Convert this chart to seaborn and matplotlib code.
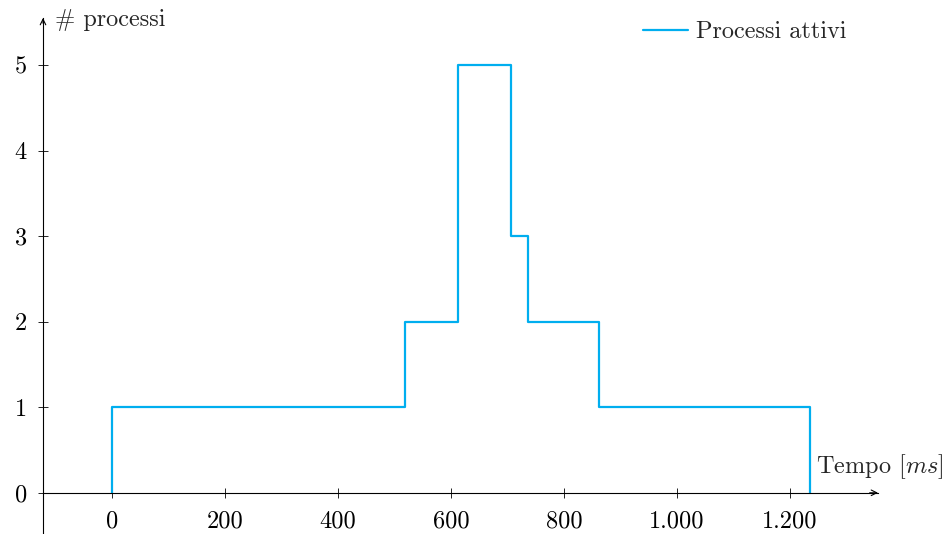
import matplotlib
matplotlib.use("Agg")
import matplotlib.pyplot as plt
import seaborn as sns
import pandas as pd
from matplotlib.ticker import FuncFormatter

# Data (ms, number of active processes)
tempo = [0, 0, 519, 613, 706, 707, 736, 863, 1235]
processi = [0, 1, 2, 5, 4, 3, 2, 1, 0]
x_ticks = [0, 200, 400, 600, 800, 1000, 1200]
y_ticks = [0, 1, 2, 3, 4, 5]

df = pd.DataFrame({"tempo": tempo, "processi": processi})

sns.set_style("white")
plt.rcParams["font.family"] = ["cmr10", "DejaVu Serif"]
plt.rcParams["mathtext.fontset"] = "cm"
plt.rcParams["axes.unicode_minus"] = False

FS = 17.5
fig = plt.figure(figsize=(9.46, 5.34), dpi=100)
ax = fig.add_axes([43 / 946, 1 / 534, (878 - 43) / 946, (533 - 18) / 534])

color = "#00AEEF"
sns.lineplot(data=df, x="tempo", y="processi", ax=ax, estimator=None, sort=False,
             drawstyle="steps-post", color=color, linewidth=1.6,
             label="Processi attivi")

ax.set_xlim(-122, 1356)
ax.set_ylim(-0.47, 5.55)
ax.set_xticks(x_ticks)
ax.set_yticks(y_ticks)
ax.xaxis.set_major_formatter(FuncFormatter(lambda v, p: f"{int(v):,}".replace(",", ".")))

for s in ["top", "right"]:
    ax.spines[s].set_visible(False)
ax.spines["bottom"].set_position(("data", 0))
ax.spines["bottom"].set_color("black")
ax.spines["left"].set_color("black")
ax.spines["bottom"].set_linewidth(0.8)
ax.spines["left"].set_linewidth(0.8)

ax.tick_params(axis="both", direction="inout", length=7, width=0.6, colors="black",
               labelsize=FS, bottom=True, left=True)
ax.tick_params(axis="x", pad=9)
ax.tick_params(axis="y", pad=8)

# arrows
ax.annotate("", xy=(1.0, 0), xycoords=("axes fraction", "data"),
            xytext=(0.99, 0), textcoords=("axes fraction", "data"),
            arrowprops=dict(arrowstyle="->", color="black", lw=0.8, shrinkA=0, shrinkB=0))
ax.annotate("", xy=(0, 1.0), xycoords="axes fraction",
            xytext=(0, 0.99), textcoords="axes fraction",
            arrowprops=dict(arrowstyle="->", color="black", lw=0.8, shrinkA=0, shrinkB=0))

ax.set_xlabel("")
ax.set_ylabel("")
fig.text(55 / 946, 1 - 20 / 534, "# processi", fontsize=FS, ha="left", va="center")
fig.text(816 / 946, 1 - 467 / 534, r"Tempo $[ms]$", fontsize=FS, ha="left", va="center")

leg = ax.legend(loc="center left", bbox_to_anchor=(643 / 946, 1 - 32 / 534),
                bbox_transform=fig.transFigure, frameon=False,
                fontsize=FS, handlelength=1.85, handletextpad=0.33,
                borderaxespad=0, borderpad=0)

fig.savefig("out.png", dpi=100)
